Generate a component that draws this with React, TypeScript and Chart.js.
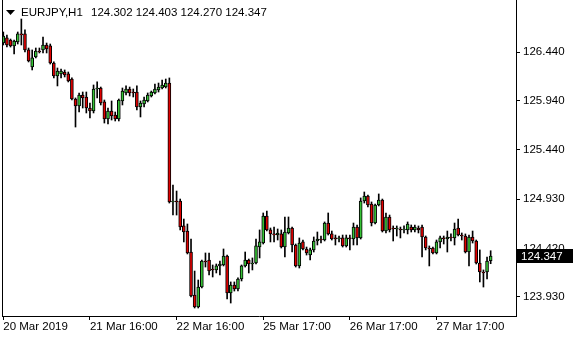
import { useEffect, useRef } from "react";
import { Chart, registerables } from "chart.js";

Chart.register(...registerables);

const symbolTitle = "EURJPY,H1";

const opens = [
  126.532, 126.584, 126.563, 126.502, 126.543, 126.625, 126.625, 126.461, 126.286, 126.389,
  126.450, 126.461, 126.512, 126.502, 126.327, 126.194, 126.215, 126.235, 126.215, 126.163,
  125.958, 125.887, 125.999, 125.979, 125.866, 125.835, 126.061, 126.071, 125.928, 125.753,
  125.835, 125.794, 125.753, 125.938, 126.020, 126.061, 126.030, 126.030, 125.876, 125.907,
  125.938, 125.989, 126.020, 126.051, 126.071, 126.081, 126.122, 124.903, 124.913, 124.913,
  124.657, 124.605, 124.390, 123.949, 123.826, 124.031, 124.298, 124.308, 124.216, 124.206,
  124.247, 124.257, 124.349, 123.970, 124.052, 124.011, 124.113, 124.247, 124.308, 124.267,
  124.277, 124.441, 124.482, 124.759, 124.616, 124.575, 124.564, 124.575, 124.441, 124.585,
  124.636, 124.462, 124.247, 124.493, 124.421, 124.359, 124.411, 124.503, 124.523, 124.513,
  124.687, 124.575, 124.534, 124.523, 124.534, 124.452, 124.534, 124.523, 124.646, 124.534,
  124.913, 124.964, 124.882, 124.687, 124.872, 124.923, 124.605, 124.749, 124.636, 124.626,
  124.626, 124.616, 124.616, 124.646, 124.616, 124.636, 124.646, 124.544, 124.431, 124.431,
  124.380, 124.493, 124.534, 124.523, 124.544, 124.534, 124.636, 124.564, 124.554, 124.390,
  124.544, 124.503, 124.277, 124.185, 124.185, 124.302,
];

const highs = [
  126.645, 126.614, 126.573, 126.563, 126.645, 126.778, 126.666, 126.481, 126.461, 126.481,
  126.481, 126.594, 126.532, 126.522, 126.338, 126.276, 126.266, 126.256, 126.235, 126.174,
  125.969, 126.020, 126.030, 126.030, 125.917, 126.102, 126.133, 126.081, 125.948, 125.866,
  125.938, 125.825, 125.958, 126.071, 126.092, 126.081, 126.061, 126.092, 125.938, 125.979,
  126.020, 126.040, 126.112, 126.122, 126.153, 126.163, 126.174, 125.077, 125.015, 124.933,
  124.728, 124.677, 124.523, 124.195, 124.103, 124.308, 124.380, 124.380, 124.257, 124.267,
  124.298, 124.421, 124.359, 124.083, 124.083, 124.124, 124.257, 124.390, 124.318, 124.329,
  124.523, 124.616, 124.790, 124.810, 124.636, 124.646, 124.626, 124.616, 124.749, 124.749,
  124.646, 124.472, 124.534, 124.513, 124.441, 124.431, 124.544, 124.595, 124.554, 124.698,
  124.790, 124.605, 124.564, 124.554, 124.564, 124.564, 124.564, 124.687, 124.667, 124.944,
  125.005, 124.974, 124.903, 124.882, 124.985, 124.933, 124.790, 124.769, 124.657, 124.657,
  124.646, 124.657, 124.698, 124.667, 124.667, 124.657, 124.667, 124.554, 124.452, 124.441,
  124.513, 124.554, 124.554, 124.605, 124.575, 124.687, 124.728, 124.585, 124.575, 124.564,
  124.605, 124.513, 124.411, 124.206, 124.339, 124.403,
];

const lows = [
  126.512, 126.491, 126.491, 126.420, 126.522, 126.512, 126.440, 126.338, 126.256, 126.379,
  126.430, 126.430, 126.430, 126.317, 126.174, 126.092, 126.174, 126.184, 126.133, 125.948,
  125.671, 125.825, 125.866, 125.815, 125.764, 125.815, 125.969, 125.897, 125.712, 125.702,
  125.743, 125.733, 125.733, 125.897, 125.999, 125.989, 125.979, 125.846, 125.774, 125.876,
  125.928, 125.979, 126.010, 126.030, 126.061, 126.071, 124.892, 124.769, 124.769, 124.616,
  124.493, 124.370, 123.929, 123.816, 123.816, 124.021, 124.236, 124.154, 124.134, 124.175,
  124.154, 124.247, 123.908, 123.867, 123.990, 123.990, 124.093, 124.236, 124.175, 124.206,
  124.267, 124.329, 124.472, 124.605, 124.493, 124.493, 124.513, 124.431, 124.339, 124.575,
  124.390, 124.236, 124.226, 124.411, 124.359, 124.308, 124.390, 124.462, 124.482, 124.503,
  124.564, 124.513, 124.462, 124.493, 124.441, 124.441, 124.411, 124.462, 124.462, 124.523,
  124.892, 124.851, 124.657, 124.677, 124.862, 124.595, 124.585, 124.595, 124.503, 124.554,
  124.534, 124.585, 124.575, 124.595, 124.595, 124.585, 124.339, 124.411, 124.247, 124.370,
  124.370, 124.431, 124.472, 124.390, 124.503, 124.462, 124.554, 124.513, 124.380, 124.247,
  124.482, 124.267, 124.083, 124.031, 124.113, 124.270,
];

const closes = [
  126.604, 126.512, 126.502, 126.553, 126.625, 126.615, 126.461, 126.348, 126.379, 126.450,
  126.440, 126.512, 126.471, 126.327, 126.194, 126.245, 126.245, 126.204, 126.143, 125.958,
  125.887, 125.999, 125.969, 125.866, 125.835, 126.061, 126.071, 125.917, 125.753, 125.835,
  125.784, 125.753, 125.948, 126.040, 126.061, 126.020, 126.020, 125.876, 125.917, 125.948,
  125.999, 126.030, 126.061, 126.081, 126.102, 126.122, 124.903, 124.913, 124.903, 124.646,
  124.595, 124.380, 123.939, 123.826, 124.031, 124.298, 124.288, 124.195, 124.206, 124.247,
  124.267, 124.349, 123.970, 124.052, 124.011, 124.113, 124.247, 124.308, 124.267, 124.277,
  124.452, 124.493, 124.759, 124.616, 124.575, 124.565, 124.585, 124.441, 124.595, 124.636,
  124.462, 124.247, 124.482, 124.421, 124.380, 124.411, 124.503, 124.523, 124.513, 124.687,
  124.575, 124.523, 124.523, 124.534, 124.452, 124.534, 124.523, 124.646, 124.534, 124.913,
  124.964, 124.872, 124.687, 124.872, 124.923, 124.605, 124.749, 124.616, 124.626, 124.636,
  124.616, 124.626, 124.677, 124.616, 124.646, 124.616, 124.544, 124.431, 124.421, 124.380,
  124.493, 124.534, 124.523, 124.544, 124.534, 124.626, 124.564, 124.554, 124.390, 124.544,
  124.503, 124.277, 124.185, 124.175, 124.298, 124.347,
];

const xTickIdx = [0, 24, 48, 72, 96, 120];
const xTickLabels = ["20 Mar 2019", "21 Mar 16:00", "22 Mar 16:00", "25 Mar 17:00", "26 Mar 17:00", "27 Mar 17:00"];
const yTicks = [126.44, 125.94, 125.44, 124.93, 124.42, 123.93];

const BULL = "#36c236";
const BEAR = "#e00000";
const FONT = "'Liberation Sans', Arial, sans-serif";
const FONT_SIZE = 11.5;

export default function App() {
  const ref = useRef<HTMLCanvasElement>(null);

  useEffect(() => {
    if (!ref.current) return;
    const n = closes.length;
    const idx = closes.map((_, i) => i);
    const bodies = idx.map((i) => ({ x: i, y: [opens[i], closes[i]] }));
    const wicks = idx.map((i) => ({ x: i, y: [lows[i], highs[i]] }));
    const colors = idx.map((i) => (closes[i] >= opens[i] ? BULL : BEAR));

    const overlay = {
      id: "mt4overlay",
      afterDraw(chart: any) {
        const { ctx, chartArea } = chart;
        const { left, right, top, bottom } = chartArea;
        const yScale = chart.scales.y;
        ctx.save();
        ctx.strokeStyle = "#000";
        ctx.lineWidth = 1;
        ctx.beginPath();
        ctx.moveTo(left + 0.5, top);
        ctx.lineTo(left + 0.5, bottom);
        ctx.stroke();

        // header
        ctx.fillStyle = "#000";
        ctx.beginPath();
        ctx.moveTo(6, 10);
        ctx.lineTo(15, 10);
        ctx.lineTo(10.5, 15);
        ctx.closePath();
        ctx.fill();
        ctx.font = `${FONT_SIZE}px ${FONT}`;
        ctx.textBaseline = "middle";
        ctx.textAlign = "left";
        ctx.fillText(symbolTitle, 21, 13);
        const hdr = [opens[n - 1], highs[n - 1], lows[n - 1], closes[n - 1]].map((v) => v.toFixed(3)).join(" ");
        ctx.fillText(hdr, 91, 13);

        // last price box
        const last = closes[n - 1];
        const py = Math.round(yScale.getPixelForValue(last));
        ctx.fillStyle = "#000";
        ctx.fillRect(right + 1, py - 7, 56, 14);
        ctx.fillStyle = "#fff";
        ctx.fillText(last.toFixed(3), right + 5, py + 0.5);
        ctx.restore();
      },
    };

    const axisFont = { family: FONT, size: FONT_SIZE };

    const chart = new Chart(ref.current, {
      type: "bar",
      data: {
        datasets: [
          {
            data: bodies as any,
            backgroundColor: colors,
            borderColor: "#000",
            borderWidth: 1,
            borderSkipped: false,
            barThickness: 3,
            grouped: false,
          } as any,
          {
            data: wicks as any,
            backgroundColor: "#000",
            borderWidth: 0,
            barThickness: 1,
            grouped: false,
          } as any,
        ],
      },
      options: {
        animation: false,
        responsive: true,
        maintainAspectRatio: false,
        layout: { padding: { left: 2, top: 0, right: 0, bottom: 0 } },
        plugins: { legend: { display: false }, tooltip: { enabled: false } },
        scales: {
          x: {
            type: "linear",
            min: -0.36,
            max: 142.02,
            offset: false,
            grid: { display: true, drawOnChartArea: false, drawTicks: true, tickLength: 4, color: "#000", offset: false },
            border: { display: true, color: "#000", width: 1 },
            ticks: {
              autoSkip: false,
              maxRotation: 0,
              align: "start",
              padding: 0,
              color: "#000",
              font: axisFont,
              callback: (v: any) => {
                const k = xTickIdx.indexOf(Number(v));
                return k >= 0 ? xTickLabels[k] : "";
              },
            },
            afterBuildTicks: (s: any) => {
              s.ticks = xTickIdx.map((v) => ({ value: v }));
            },
            afterFit: (s: any) => {
              s.height = 24;
              s.paddingLeft = 0;
              s.paddingRight = 0;
            },
          } as any,
          y: {
            position: "right",
            min: 123.734,
            max: 126.973,
            grid: { display: true, drawOnChartArea: false, drawTicks: true, tickLength: 4, color: "#000" },
            border: { display: true, color: "#000", width: 1 },
            ticks: {
              autoSkip: false,
              padding: 3,
              color: "#000",
              font: axisFont,
              callback: (v: any) => Number(v).toFixed(3),
            },
            afterBuildTicks: (s: any) => {
              s.ticks = yTicks.map((v) => ({ value: v }));
            },
            afterFit: (s: any) => {
              s.width = 64;
              s.paddingTop = 0;
              s.paddingBottom = 0;
            },
          } as any,
        },
      },
      plugins: [overlay],
    });
    return () => chart.destroy();
  }, []);

  return (
    <div style={{ position: "absolute", left: 0, top: 0, width: 580, height: 340, background: "#fff" }}>
      <canvas ref={ref} />
    </div>
  );
}
